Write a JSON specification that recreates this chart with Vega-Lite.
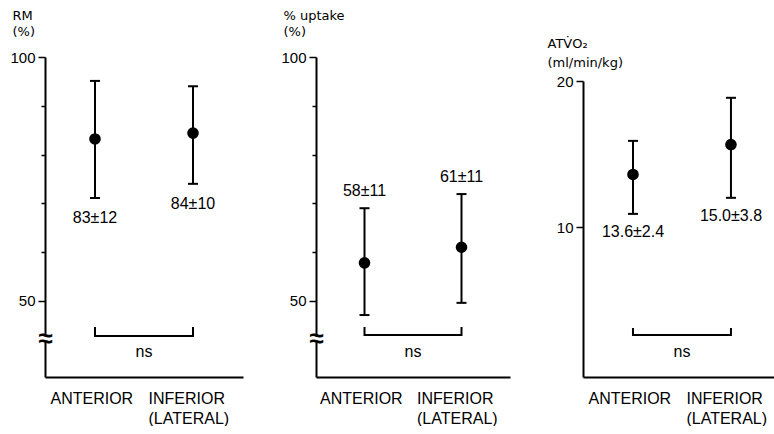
{
  "$schema": "https://vega.github.io/schema/vega-lite/v6.json",
  "background": "white",
  "padding": {"left": 9, "top": 9, "right": 0, "bottom": 0},
  "bounds": "flush",
  "spacing": 73,
  "config": {
    "font": "Liberation Sans",
    "view": {"stroke": null},
    "axis": {
      "grid": false,
      "domainColor": "black",
      "domainWidth": 2,
      "tickColor": "black",
      "tickWidth": 1.5,
      "labelColor": "black",
      "titleColor": "black",
      "labelFontSize": 15,
      "titleFont": "DejaVu Sans",
      "titleFontSize": 13,
      "titleFontWeight": "normal",
      "labelOverlap": false,
      "labelBound": false,
      "labelFlush": false
    }
  },
  "hconcat": [
    {
      "width": 198,
      "height": 320,
      "data": {"values": [
        {"site": "ANTERIOR", "mean": 83.2, "lo": 71.1, "hi": 95.1, "label": "83±12"},
        {"site": "INFERIOR (LATERAL)", "mean": 84.4, "lo": 74.0, "hi": 94.0, "label": "84±10"}
      ]},
      "encoding": {
        "x": {"field": "site", "type": "nominal", "sort": null,
          "scale": {"type": "point", "padding": 0.51, "domain": ["ANTERIOR", "INFERIOR (LATERAL)"]},
          "axis": {"title": null, "ticks": false, "labelAngle": 0, "labelAlign": "left", "labelBaseline": "top", "labelOffset": -45, "labelPadding": 13, "labelFontSize": 16, "labelLineHeight": 20, "labelExpr": "split(datum.label, ' ')"}}
      },
      "layer": [
        {"mark": {"type": "rule", "strokeWidth": 2, "color": "black"},
         "encoding": {
           "y": {"field": "lo", "type": "quantitative",
             "scale": {"domain": [34.4, 100], "nice": false, "zero": false},
             "axis": {
               "title": ["RM", "(%)"], "titleAngle": 0, "titleAlign": "left", "titleBaseline": "top", "titleX": -33, "titleY": -48, "titleLineHeight": 16,
               "values": [42.3, 50, 60, 70, 80, 90, 100],
               "labelExpr": "datum.value < 45 ? '≈' : (datum.value % 50 === 0 ? datum.label : '')",
               "tickSize": {"condition": {"test": "datum.value % 50 === 0", "value": 7}, "value": 4},
               "tickOpacity": {"condition": {"test": "datum.value < 45", "value": 0}, "value": 1},
               "labelPadding": {"condition": {"test": "datum.value < 45", "value": -4}, "value": 3},
               "labelAlign": {"condition": {"test": "datum.value < 45", "value": "center"}, "value": "right"},
               "labelFontSize": {"condition": {"test": "datum.value < 45", "value": 26}, "value": 15},
               "labelFontWeight": {"condition": {"test": "datum.value < 45", "value": "bold"}, "value": "normal"},
               "domainDash": [37, 4, 1000]
             }},
           "y2": {"field": "hi"}
         }},
        {"mark": {"type": "tick", "size": 10, "thickness": 2, "color": "black", "opacity": 1},
         "encoding": {"y": {"field": "hi", "type": "quantitative"}}},
        {"mark": {"type": "tick", "size": 10, "thickness": 2, "color": "black", "opacity": 1},
         "encoding": {"y": {"field": "lo", "type": "quantitative"}}},
        {"mark": {"type": "point", "shape": "circle", "filled": true, "size": 135, "color": "black", "opacity": 1},
         "encoding": {"y": {"field": "mean", "type": "quantitative"}}},
        {"mark": {"type": "text", "fontSize": 16, "dy": 20, "baseline": "middle", "color": "black"},
         "encoding": {"y": {"field": "lo", "type": "quantitative"}, "text": {"field": "label"}}},
        {"data": {"values": [
           {"site": "ANTERIOR", "v": 44.65, "k": 1},
           {"site": "ANTERIOR", "v": 42.8, "k": 2},
           {"site": "INFERIOR (LATERAL)", "v": 42.8, "k": 3},
           {"site": "INFERIOR (LATERAL)", "v": 44.65, "k": 4}
         ]},
         "mark": {"type": "line", "strokeWidth": 2, "color": "black"},
         "encoding": {"y": {"field": "v", "type": "quantitative"}, "order": {"field": "k"}}},
        {"data": {"values": [{"site": "ANTERIOR", "v": 39.5, "t": "ns"}]},
         "mark": {"type": "text", "fontSize": 16, "dx": 49, "baseline": "middle", "color": "black"},
         "encoding": {"y": {"field": "v", "type": "quantitative"}, "text": {"field": "t"}}}
      ]
    },
    {
      "width": 194,
      "height": 320,
      "data": {"values": [
        {"site": "ANTERIOR", "mean": 57.8, "lo": 47.1, "hi": 69.0, "label": "58±11"},
        {"site": "INFERIOR (LATERAL)", "mean": 61.0, "lo": 49.6, "hi": 71.9, "label": "61±11"}
      ]},
      "encoding": {
        "x": {"field": "site", "type": "nominal", "sort": null,
          "scale": {"type": "point", "padding": 0.5, "domain": ["ANTERIOR", "INFERIOR (LATERAL)"]},
          "axis": {"title": null, "ticks": false, "labelAngle": 0, "labelAlign": "left", "labelBaseline": "top", "labelOffset": -45, "labelPadding": 13, "labelFontSize": 16, "labelLineHeight": 20, "labelExpr": "split(datum.label, ' ')"}}
      },
      "layer": [
        {"mark": {"type": "rule", "strokeWidth": 2, "color": "black"},
         "encoding": {
           "y": {"field": "lo", "type": "quantitative",
             "scale": {"domain": [34.4, 100], "nice": false, "zero": false},
             "axis": {
               "title": ["% uptake", "(%)"], "titleAngle": 0, "titleAlign": "left", "titleBaseline": "top", "titleX": -33, "titleY": -48, "titleLineHeight": 16,
               "values": [42.3, 50, 60, 70, 80, 90, 100],
               "labelExpr": "datum.value < 45 ? '≈' : (datum.value % 50 === 0 ? datum.label : '')",
               "tickSize": {"condition": {"test": "datum.value % 50 === 0", "value": 7}, "value": 4},
               "tickOpacity": {"condition": {"test": "datum.value < 45", "value": 0}, "value": 1},
               "labelPadding": {"condition": {"test": "datum.value < 45", "value": -4}, "value": 3},
               "labelAlign": {"condition": {"test": "datum.value < 45", "value": "center"}, "value": "right"},
               "labelFontSize": {"condition": {"test": "datum.value < 45", "value": 26}, "value": 15},
               "labelFontWeight": {"condition": {"test": "datum.value < 45", "value": "bold"}, "value": "normal"},
               "domainDash": [37, 4, 1000]
             }},
           "y2": {"field": "hi"}
         }},
        {"mark": {"type": "tick", "size": 10, "thickness": 2, "color": "black", "opacity": 1},
         "encoding": {"y": {"field": "hi", "type": "quantitative"}}},
        {"mark": {"type": "tick", "size": 10, "thickness": 2, "color": "black", "opacity": 1},
         "encoding": {"y": {"field": "lo", "type": "quantitative"}}},
        {"mark": {"type": "point", "shape": "circle", "filled": true, "size": 135, "color": "black", "opacity": 1},
         "encoding": {"y": {"field": "mean", "type": "quantitative"}}},
        {"mark": {"type": "text", "fontSize": 16, "dy": -17, "baseline": "middle", "color": "black"},
         "encoding": {"y": {"field": "hi", "type": "quantitative"}, "text": {"field": "label"}}},
        {"data": {"values": [
           {"site": "ANTERIOR", "v": 44.65, "k": 1},
           {"site": "ANTERIOR", "v": 43.0, "k": 2},
           {"site": "INFERIOR (LATERAL)", "v": 43.0, "k": 3},
           {"site": "INFERIOR (LATERAL)", "v": 44.65, "k": 4}
         ]},
         "mark": {"type": "line", "strokeWidth": 2, "color": "black"},
         "encoding": {"y": {"field": "v", "type": "quantitative"}, "order": {"field": "k"}}},
        {"data": {"values": [{"site": "ANTERIOR", "v": 39.5, "t": "ns"}]},
         "mark": {"type": "text", "fontSize": 16, "dx": 48.5, "baseline": "middle", "color": "black"},
         "encoding": {"y": {"field": "v", "type": "quantitative"}, "text": {"field": "t"}}}
      ]
    },
    {
      "width": 193,
      "height": 320,
      "data": {"values": [
        {"site": "ANTERIOR", "mean": 13.6, "lo": 10.9, "hi": 15.9, "label": "13.6±2.4"},
        {"site": "INFERIOR (LATERAL)", "mean": 15.65, "lo": 12.0, "hi": 18.85, "label": "15.0±3.8"}
      ]},
      "encoding": {
        "x": {"field": "site", "type": "nominal", "sort": null,
          "scale": {"type": "point", "padding": 0.485, "align": 0.526, "domain": ["ANTERIOR", "INFERIOR (LATERAL)"]},
          "axis": {"title": null, "ticks": false, "labelAngle": 0, "labelAlign": "left", "labelBaseline": "top", "labelOffset": -45, "labelPadding": 13, "labelFontSize": 16, "labelLineHeight": 20, "labelExpr": "split(datum.label, ' ')"}}
      },
      "layer": [
        {"mark": {"type": "rule", "strokeWidth": 2, "color": "black"},
         "encoding": {
           "y": {"field": "lo", "type": "quantitative",
             "scale": {"domain": [-0.27, 20], "range": [320, 24], "nice": false, "zero": false},
             "axis": {
               "title": ["ATV̇O₂", "(ml/min/kg)"], "titleAngle": 0, "titleAlign": "left", "titleBaseline": "top", "titleX": -36, "titleY": -20, "titleLineHeight": 19,
               "values": [10, 20],
               "tickSize": 7,
               "labelPadding": 3
             }},
           "y2": {"field": "hi"}
         }},
        {"mark": {"type": "tick", "size": 10, "thickness": 2, "color": "black", "opacity": 1},
         "encoding": {"y": {"field": "hi", "type": "quantitative"}}},
        {"mark": {"type": "tick", "size": 10, "thickness": 2, "color": "black", "opacity": 1},
         "encoding": {"y": {"field": "lo", "type": "quantitative"}}},
        {"mark": {"type": "point", "shape": "circle", "filled": true, "size": 135, "color": "black", "opacity": 1},
         "encoding": {"y": {"field": "mean", "type": "quantitative"}}},
        {"mark": {"type": "text", "fontSize": 16, "dy": 18, "baseline": "middle", "color": "black"},
         "encoding": {"y": {"field": "lo", "type": "quantitative"}, "text": {"field": "label"}}},
        {"data": {"values": [
           {"site": "ANTERIOR", "v": 3.08, "k": 1},
           {"site": "ANTERIOR", "v": 2.6, "k": 2},
           {"site": "INFERIOR (LATERAL)", "v": 2.6, "k": 3},
           {"site": "INFERIOR (LATERAL)", "v": 3.08, "k": 4}
         ]},
         "mark": {"type": "line", "strokeWidth": 2, "color": "black"},
         "encoding": {"y": {"field": "v", "type": "quantitative"}, "order": {"field": "k"}}},
        {"data": {"values": [{"site": "ANTERIOR", "v": 1.44, "t": "ns"}]},
         "mark": {"type": "text", "fontSize": 16, "dx": 49, "baseline": "middle", "color": "black"},
         "encoding": {"y": {"field": "v", "type": "quantitative"}, "text": {"field": "t"}}}
      ]
    }
  ]
}
